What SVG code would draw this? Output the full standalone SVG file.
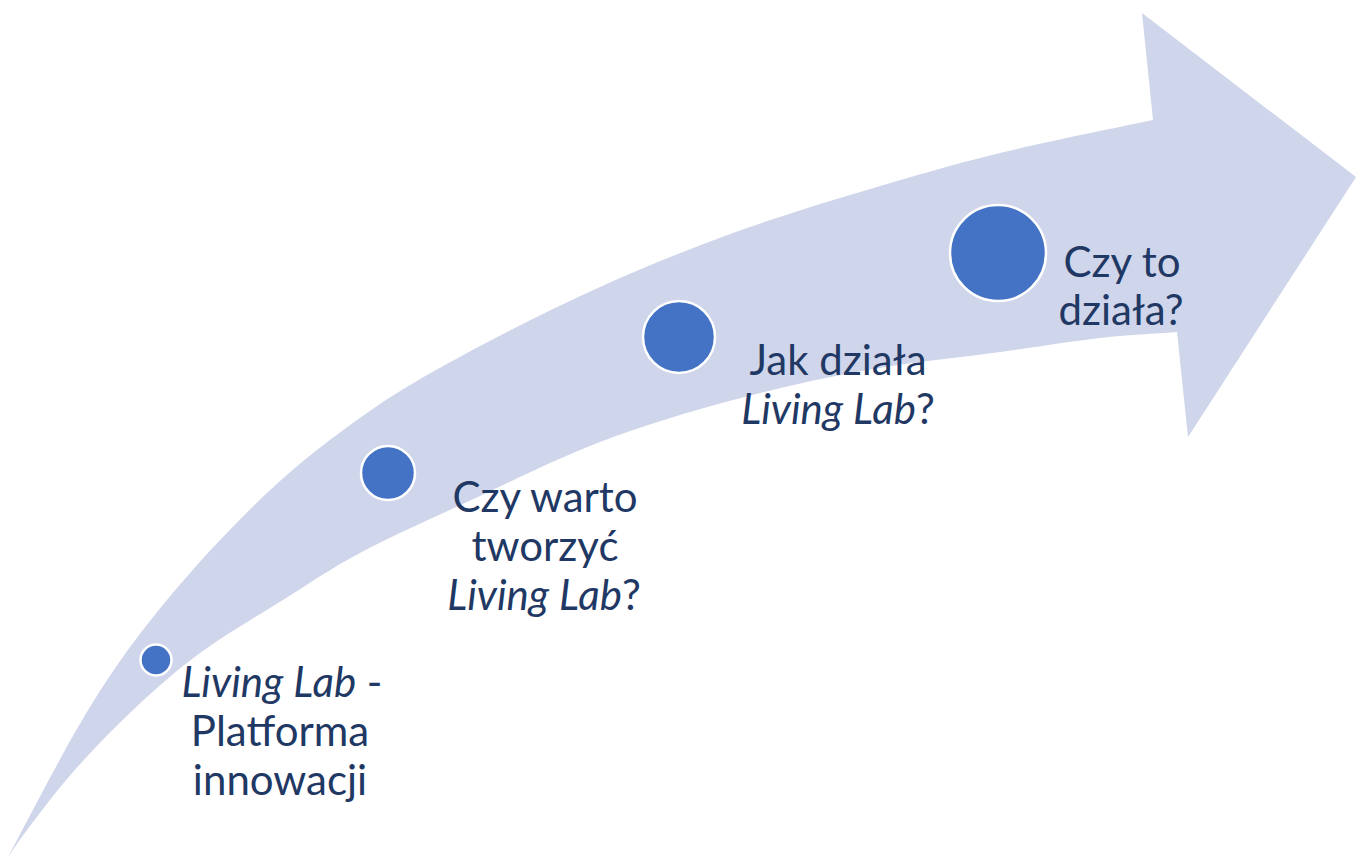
<svg xmlns="http://www.w3.org/2000/svg" width="1356" height="859" viewBox="0 0 1356 859">
<style>
.lbl{font-family:Lato,"Open Sans","Liberation Sans",sans-serif;font-size:42px;fill:#1F3864;text-anchor:middle}
.it{font-style:italic}
.dot{fill:#4472C4;stroke:#FFFFFF;stroke-width:2.5}
</style>
<rect width="1356" height="859" fill="#FFFFFF"/>
<g id="arrow">
<path fill="#CFD5EA" d="M8,857 C21.7,832 63.5,749.8 90,707 C116.5,664.2 137.5,635.7 167,600 C196.5,564.3 233.7,524.2 267,493 C300.3,461.8 333.7,436.3 367,413 C400.3,389.7 428.2,374 467,353 C505.8,332 555.7,307 600,287 C644.3,267 688.5,249.2 733,233 C777.5,216.8 822.5,203.3 867,190 C911.5,176.7 952.3,164.7 1000,153 C1047.7,141.3 1127.5,125.5 1153,120 L1142,13 L1356,177 L1188,437 L1177,332 C1164.2,333 1129.5,334.7 1100,338 C1070.5,341.3 1038.8,346.7 1000,352 C961.2,357.3 911.5,362 867,370 C822.5,378 777.5,388 733,400 C688.5,412 644.3,425 600,442 C555.7,459 507,483.5 467,502 C427,520.5 390.7,536.7 360,553 C329.3,569.3 309.7,583.3 283,600 C256.3,616.7 225,634.7 200,653 C175,671.3 154.2,690.2 133,710 C111.8,729.8 90.7,752 73,772 C55.3,792 37.8,815.8 27,830 C16.2,844.2 11.2,852.5 8,857 Z"/>
</g>
<g id="connectors"></g>
<g id="step1">
<circle class="dot" cx="156" cy="660" r="15.5"/>
<text class="lbl" x="282" y="697"><tspan class="it">Living Lab</tspan> -</text>
<text class="lbl" x="280" y="746">Platforma</text>
<text class="lbl" x="280" y="795">innowacji</text>
</g>
<g id="step2">
<circle class="dot" cx="388" cy="473" r="27"/>
<text class="lbl" x="545" y="512">Czy warto</text>
<text class="lbl" x="545" y="561">tworzyć</text>
<text class="lbl" x="544" y="610"><tspan class="it">Living Lab</tspan>?</text>
</g>
<g id="step3">
<circle class="dot" cx="679" cy="337" r="36"/>
<text class="lbl" x="838" y="375">Jak działa</text>
<text class="lbl" x="838" y="424"><tspan class="it">Living Lab</tspan>?</text>
</g>
<g id="step4">
<circle class="dot" cx="998" cy="253" r="48"/>
<text class="lbl" x="1122" y="277">Czy to</text>
<text class="lbl" x="1121" y="325">działa?</text>
</g>
</svg>
